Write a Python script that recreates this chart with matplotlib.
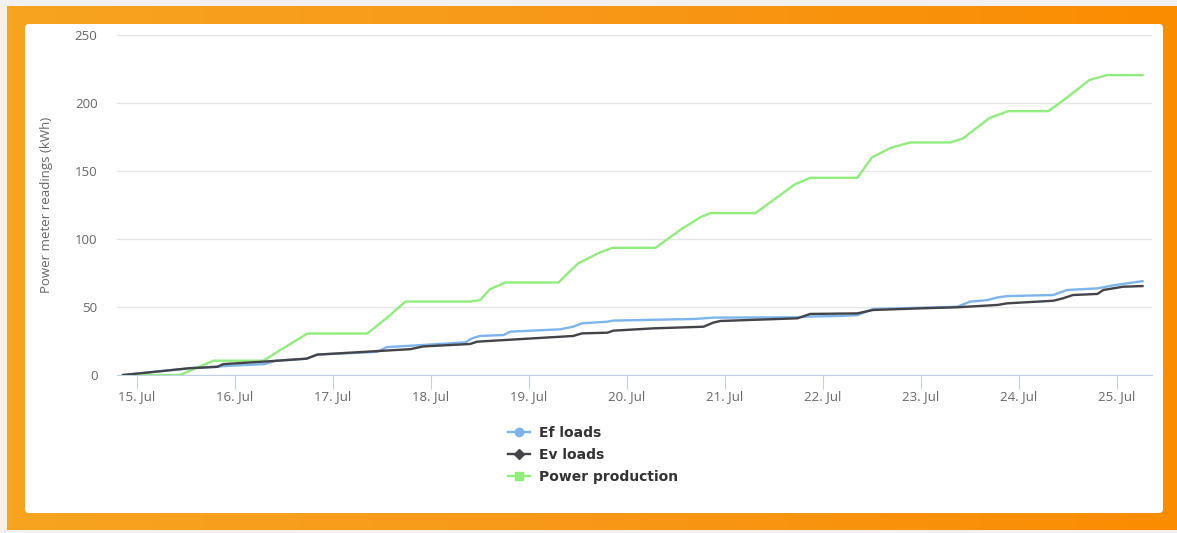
import matplotlib
matplotlib.use("Agg")
import matplotlib.pyplot as plt
import numpy as np
from matplotlib.patches import FancyBboxPatch
from matplotlib.lines import Line2D
from matplotlib.colors import LinearSegmentedColormap

# days since 15 Jul 00:00
t_prod = [-0.15, 0.44, 0.6, 0.78, 1.29, 1.5, 1.74, 2.35, 2.55, 2.74, 3.4, 3.5, 3.6, 3.76,
          4.3, 4.5, 4.72, 4.85, 5.29, 5.55, 5.75, 5.85, 6.31, 6.5, 6.71, 6.87, 7.35, 7.5,
          7.69, 7.89, 8.3, 8.43, 8.7, 8.89, 9.3, 9.49, 9.72, 9.9, 10.26]
v_prod = [0, 0, 5, 10.5, 10.5, 20, 30.5, 30.5, 42, 54, 54, 55, 63, 68,
          68, 82, 90, 93.5, 93.5, 107, 116, 119, 119, 129, 140, 145, 145, 160,
          167, 171, 171, 174, 189, 194, 194, 204, 217, 220.5, 220.5]

t_ev = [-0.14, 0.54, 0.82, 0.88, 1.33, 1.73, 1.84, 2.48, 2.79, 2.92, 3.40, 3.47, 4.45, 4.54,
        4.80, 4.86, 5.27, 5.78, 5.88, 5.95, 6.74, 6.87, 7.35, 7.51, 7.99, 8.37, 8.78, 8.88,
        9.35, 9.45, 9.55, 9.80, 9.86, 10.06, 10.26]
v_ev = [0, 5, 6, 8, 10, 12, 15, 17.7, 19, 21, 22.8, 24.5, 28.7, 30.6,
        31.1, 32.6, 34.3, 35.5, 38.5, 39.7, 41.7, 44.9, 45.3, 47.8, 49, 49.8, 51.5, 52.7,
        54.6, 56.4, 58.8, 59.6, 62.5, 64.9, 65.4]

t_ef = [-0.14, 0.54, 1.0, 1.3, 1.42, 1.73, 1.84, 2.45, 2.55, 2.9, 3.35, 3.42, 3.5, 3.74,
        3.81, 4.32, 4.45, 4.54, 4.80, 4.86, 5.69, 5.88, 6.74, 6.87, 7.2, 7.35, 7.51, 8.37,
        8.5, 8.67, 8.78, 8.88, 9.35, 9.49, 9.80, 9.97, 10.26]
v_ef = [0, 5, 7, 8, 10.5, 12, 15, 17, 20.5, 22, 24, 27, 28.7, 29.4,
        31.9, 33.6, 35.5, 38, 39.2, 40, 41.2, 42.2, 42.4, 43, 43.5, 44, 48.5, 50.2,
        53.9, 55, 57, 58, 58.8, 62.5, 63.7, 66, 69]

day_ticks = list(range(11))
day_labels = ['15. Jul', '16. Jul', '17. Jul', '18. Jul', '19. Jul', '20. Jul',
              '21. Jul', '22. Jul', '23. Jul', '24. Jul', '25. Jul']
y_ticks = [0, 50, 100, 150, 200, 250]

W, H = 1177, 533
fig = plt.figure(figsize=(W / 100, H / 100), dpi=100)
fig.patch.set_facecolor('#f2f1ef')

# orange frame, lighter on the left, darker on the right
bg = fig.add_axes([0, 0, 1, 1], zorder=0)
bg.set_xlim(0, W)
bg.set_ylim(H, 0)
bg.axis('off')
grad = np.linspace(0, 1, 256).reshape(1, -1)
cmap = LinearSegmentedColormap.from_list('o', ['#f8a420', '#f79818', '#fb8c00'])
bg.imshow(grad, extent=[7, W, 530, 6], cmap=cmap, aspect='auto', zorder=0)
bg.add_patch(FancyBboxPatch((25, 24), 1163 - 25, 513 - 24,
                            boxstyle='round,pad=0,rounding_size=4',
                            facecolor='white', edgecolor='none', zorder=1))

ax = fig.add_axes([117 / W, (H - 375) / H, (1152 - 117) / W, 340 / H], zorder=2)
ax.set_facecolor('none')

ax.plot(t_ef, v_ef, color='#7cb5ec', lw=1.7, zorder=3)
ax.plot(t_ev, v_ev, color='#434348', lw=1.7, zorder=4)
ax.plot(t_prod, v_prod, color='#90ed7d', lw=1.7, zorder=3)

ax.set_xlim(-0.204, 10.357)
ax.set_ylim(0, 250)
ax.set_yticks(y_ticks)
ax.set_xticks(day_ticks)
ax.set_xticklabels(day_labels)
ax.grid(axis='y', color='#e6e6e6', lw=1)
ax.set_axisbelow(True)
for s in ['left', 'right', 'top']:
    ax.spines[s].set_visible(False)
ax.spines['bottom'].set_color('#c0d0e0')
ax.tick_params(axis='x', length=10, color='#c0d0e0', labelsize=9.5, labelcolor='#666666', pad=1)
ax.tick_params(axis='y', length=0, labelsize=9.5, labelcolor='#666666', pad=14)
for lab in ax.get_xticklabels() + ax.get_yticklabels():
    lab.set_family('Open Sans')
ax.set_ylabel('Power meter readings (kWh)', fontsize=9.5, color='#666666',
              family='Open Sans', labelpad=16)

handles = [
    Line2D([], [], color='#7cb5ec', lw=1.7, marker='o', markersize=6),
    Line2D([], [], color='#434348', lw=1.7, marker='D', markersize=5),
    Line2D([], [], color='#90ed7d', lw=1.7, marker='s', markersize=6),
]
fig.legend(handles, ['Ef loads', 'Ev loads', 'Power production'],
           loc='center', bbox_to_anchor=(593 / W, (H - 455) / H), frameon=False,
           prop={'weight': 'bold', 'size': 10}, labelcolor='#333333',
           handlelength=1.6, handletextpad=0.6, labelspacing=0.6)

fig.savefig('out.png', dpi=100, facecolor=fig.get_facecolor())
